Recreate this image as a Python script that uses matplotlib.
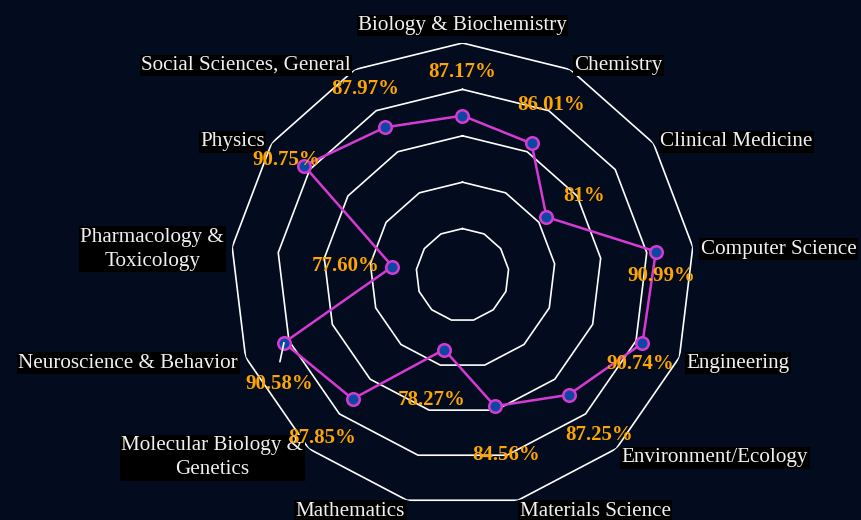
import numpy as np
import matplotlib
matplotlib.use('Agg')
import matplotlib.pyplot as plt

# Datos
categorias = ['Biology & Biochemistry', 'Chemistry', 'Clinical Medicine', 'Computer Science',
              'Engineering', 'Environment/Ecology', 'Materials Science', 'Mathematics',
              'Molecular Biology &\nGenetics', 'Neuroscience & Behavior',
              'Pharmacology &\nToxicology', 'Physics', 'Social Sciences, General']
valores = [87.17, 86.01, 81.00, 90.99, 90.74, 87.25, 84.56, 78.27, 87.85, 90.58, 77.60, 90.75, 87.97]
etiquetas = ['87.17%', '86.01%', '81%', '90.99%', '90.74%', '87.25%', '84.56%', '78.27%',
             '87.85%', '90.58%', '77.60%', '90.75%', '87.97%']
niveles = [75, 80, 85, 90, 95]
r_min, r_max = 70, 95

# Desplazamiento (pixeles) de cada etiqueta de valor respecto a su punto
offsets = [(0, 44), (20, 38), (38, 21), (5, -24), (-2, -21), (30, -40), (11, -49),
           (-12, -50), (-30, -39), (-5, -41), (-47, 1), (-18, 6), (-20, 38)]

fondo = '#020c1e'
magenta = '#d63ad2'
azul = '#0d47a1'
naranja = '#ffa500'

plt.rcParams['font.family'] = ['Liberation Serif', 'DejaVu Serif']

fig = plt.figure(figsize=(8.61, 5.2), dpi=100)
fig.patch.set_facecolor(fondo)
ax = fig.add_axes([0.2677, 0.025, 0.5389, 0.8923], projection='polar')
ax.set_facecolor(fondo)
ax.set_theta_offset(np.pi / 2)
ax.set_theta_direction(-1)
ax.set_ylim(r_min, r_max)
ax.grid(False)
ax.spines['polar'].set_visible(False)
ax.set_xticks([])
ax.set_yticks([])

n = len(categorias)
ang = np.arange(n) * 2 * np.pi / n
ang_c = np.append(ang, ang[0])

# Rejilla poligonal
for lv in niveles:
    ax.plot(ang_c, [lv] * (n + 1), color='white', linewidth=1.2, zorder=1)

# Serie
val_c = valores + valores[:1]
ax.plot(ang_c, val_c, color=magenta, linewidth=1.8, zorder=3)
ax.plot(ang, valores, linestyle='none', marker='o', markersize=9,
        markerfacecolor=azul, markeredgecolor=magenta, markeredgewidth=1.8, zorder=4)

# Linea guia de la etiqueta de Neuroscience
ax.annotate('', xy=(ang[9], valores[9]), xytext=(-4, -19), textcoords='offset pixels',
            arrowprops=dict(arrowstyle='-', color='white', linewidth=1.2,
                            shrinkA=0, shrinkB=0), zorder=5)

# Etiquetas de valor
for a, v, t, off in zip(ang, valores, etiquetas, offsets):
    ax.annotate(t, xy=(a, v), xytext=off, textcoords='offset pixels',
                ha='center', va='center', color=naranja, fontsize=15,
                fontweight='bold', zorder=6)

# Nombres de los ejes
for a, c in zip(ang, categorias):
    s, co = np.sin(a), np.cos(a)
    if abs(s) < 0.01:
        ha = 'center'
    elif s > 0:
        ha = 'left'
    else:
        ha = 'right'
    if co > 0.99:
        va, dy = 'bottom', 8 * co
    else:
        va, dy = 'center', 8 * co - 3
    ax.annotate(c, xy=(a, r_max), xytext=(8 * s, dy), textcoords='offset pixels',
                ha=ha, va=va, multialignment='center', linespacing=1.35,
                color='#f0f0f0', fontsize=15.2, annotation_clip=False,
                bbox=dict(facecolor='black', edgecolor='none', pad=1))

plt.savefig('out.png', dpi=100, facecolor=fondo)
